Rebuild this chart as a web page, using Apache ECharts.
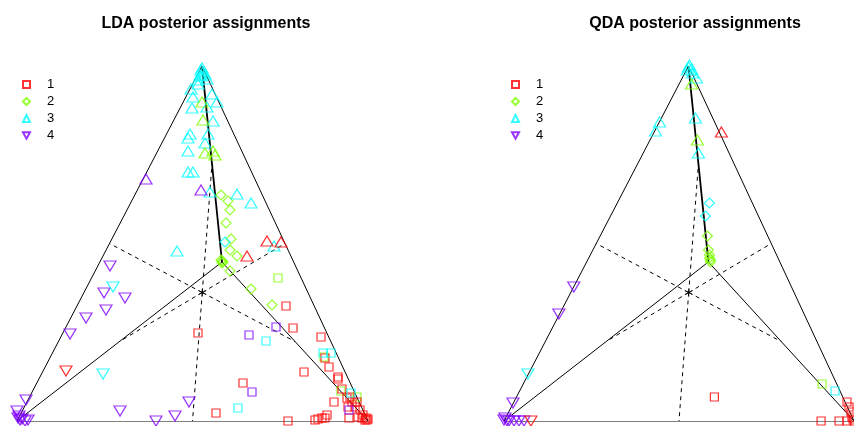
<!DOCTYPE html>
<html>
<head>
<meta charset="utf-8">
<script src="https://cdn.jsdelivr.net/npm/echarts@6/dist/echarts.min.js"></script>
<style>
  html, body { margin: 0; padding: 0; background: #fff; }
  #chart { width: 854px; height: 426px; }
</style>
</head>
<body>
<div id="chart"></div>
<script>
const classNames = ['1', '2', '3', '4'];
const classColors = ['#FF0000', '#80FF00', '#00FFFF', '#8000FF'];
const panelTitles = ['LDA posterior assignments', 'QDA posterior assignments'];

// simplex corner of each class in the projected plane (class 1..4)
const vertexU = [351, 205, 185, 0];
const vertexV = [0, 159, 355, 0];

// [u, v, true class, assigned class]
const ldaPoints = [
  [185,353,3,3],[184,351,3,3],[186,349,3,3],[183,346,3,3],[188,347,3,3],[185,345,3,3],[181,341,3,3],[190,342,3,3],
  [181,337,3,3],[174,332,3,3],[176,324,3,3],[195,327,3,3],[200,319,3,3],[175,313,3,3],[190,314,3,3],[196,300,3,3],
  [173,287,3,3],[171,283,3,3],[191,287,3,3],[188,278,3,3],[171,270,3,3],[171,249,3,3],[176,249,3,3],[193,229,3,3],
  [220,227,3,3],[234,218,3,3],[257,175,3,3],[160,170,3,3],
  [185,319,2,3],[186,301,2,3],[188,268,2,3],[196,270,2,3],[198,266,2,3],
  [184,231,4,3],[129,242,4,3],
  [250,180,1,3],[264,179,1,3],[230,165,1,3],
  [204,226,2,2],[211,220,2,2],[213,211,2,2],[209,198,2,2],[214,182,2,2],[213,171,2,2],[220,165,2,2],
  [205,160,2,2],[204,161,2,2],[206,159,2,2],[205,158,2,2],[213,150,2,2],[234,132,2,2],[255,116,2,2],
  [208,179,3,2],
  [261,143,2,1],[307,64,2,1],[324,30,2,1],[340,24,2,1],
  [269,115,1,1],[276,93,1,1],[181,88,1,1],[304,84,1,1],[308,63,1,1],[312,54,1,1],[287,49,1,1],[321,44,1,1],
  [321,42,1,1],[226,38,1,1],[317,19,1,1],[199,8,1,1],[271,0,1,1],[298,1,1,1],[301,2,1,1],[305,3,1,1],
  [308,3,1,1],[310,6,1,1],[325,32,1,1],[333,24,1,1],[330,23,1,1],[335,19,1,1],[340,19,1,1],[331,14,1,1],
  [338,14,1,1],[343,11,1,1],[346,6,1,1],[351,2,1,1],[341,4,1,1],[332,3,1,1],[348,1,1,1],[345,3,1,1],
  [349,3,1,1],[350,1,1,1],
  [306,68,3,1],[314,68,3,1],[249,80,3,1],[221,13,3,1],[334,28,3,1],
  [259,94,4,1],[232,86,4,1],[235,29,4,1],[332,11,4,1],
  [93,155,4,4],[87,128,4,4],[108,123,4,4],[89,111,4,4],[69,103,4,4],[53,87,4,4],[9,21,4,4],[103,10,4,4],
  [172,19,4,4],[158,5,4,4],[139,0,4,4],[0,10,4,4],[1,3,4,4],[3,1,4,4],[8,0,4,4],[11,1,4,4],[2,5,4,4],[5,2,4,4],
  [96,134,3,4],[86,47,3,4],
  [49,50,1,4]
];

const qdaPoints = [
  [186,356,3,3],[185,354,3,3],[188,352,3,3],[189,348,3,3],[193,343,3,3],[184,351,3,3],
  [188,337,2,3],[194,281,2,3],
  [156,299,3,3],[152,290,3,3],[192,303,3,3],[195,268,3,3],
  [218,289,1,3],
  [206,218,3,2],[202,205,3,2],
  [204,185,2,2],[205,171,2,2],[206,166,2,2],[207,161,2,2],[206,163,2,2],[207,159,2,2],
  [70,134,4,4],[55,107,4,4],[9,18,4,4],[0,1,4,4],[3,0,4,4],[5,0,4,4],[10,0,4,4],[15,0,4,4],[20,0,4,4],[1,3,4,4],
  [24,47,3,4],
  [27,0,1,4],
  [211,24,1,1],[319,37,2,1],[332,30,3,1],
  [318,0,1,1],[336,0,1,1],[344,0,1,1],[344,19,1,1],[346,14,1,1],[348,9,1,1],[349,4,1,1],[351,0,1,1],[350,2,1,1]
];

const shapes = ['rect', 'diamond', 'triangle', 'triangle'];
const rotations = [0, 0, 0, 180];
const sizes = [[8, 8], [10, 10], [12, 10], [12, 10]];
const downTri = 'path://M0,0 L10,0 L5,9 Z';
const star = 'path://M5,0 L5,10 M0.67,2.5 L9.33,7.5 M0.67,7.5 L9.33,2.5';

const chart = echarts.init(document.getElementById('chart'));

const vtx = i => [vertexU[i], vertexV[i]];
const center = [vertexU.reduce((a, b) => a + b, 0) / 4, vertexV.reduce((a, b) => a + b, 0) / 4];

// outer triangle plus the three edges to the inner corner (class 2); class 2 - class 3 edge drawn heavier
const solidSegs = [[3, 0], [0, 2], [2, 3], [1, 0], [1, 3]]
  .map(([a, b]) => ({ coords: [vtx(a), vtx(b)] }));
const heavySegs = [{ coords: [vtx(1), vtx(2)] }];
const dashSegs = [];
for (let a = 0; a < 4; a++) {
  for (let b = a + 1; b < 4; b++) {
    dashSegs.push({ coords: [center, [(vertexU[a] + vertexU[b]) / 2, (vertexV[a] + vertexV[b]) / 2]] });
  }
}

const grids = [
  { left: 17, top: 61, width: 351, height: 360 },
  { left: 504, top: 61, width: 351, height: 360 }
];

const series = [];
[ldaPoints, qdaPoints].forEach((pts, p) => {
  series.push({
    type: 'lines', coordinateSystem: 'cartesian2d', xAxisIndex: p, yAxisIndex: p,
    silent: true, z: 1, data: solidSegs,
    lineStyle: { color: '#000', width: 1, opacity: 1 }
  });
  series.push({
    type: 'lines', coordinateSystem: 'cartesian2d', xAxisIndex: p, yAxisIndex: p,
    silent: true, z: 1, data: heavySegs,
    lineStyle: { color: '#000', width: 1.8, opacity: 1 }
  });
  series.push({
    type: 'lines', coordinateSystem: 'cartesian2d', xAxisIndex: p, yAxisIndex: p,
    silent: true, z: 1, data: dashSegs,
    lineStyle: { color: '#000', width: 1, type: [4, 4], opacity: 1 }
  });
  series.push({
    type: 'scatter', xAxisIndex: p, yAxisIndex: p, z: 2, silent: true,
    symbol: star, symbolSize: 8, data: [center],
    itemStyle: { color: 'rgba(0,0,0,0)', borderColor: '#000', borderWidth: 1 }
  });
  for (let k = 0; k < 4; k++) {
    series.push({
      type: 'scatter', name: 'pts' + p + k, xAxisIndex: p, yAxisIndex: p, z: 3, clip: false,
      symbol: shapes[k], symbolRotate: rotations[k], symbolSize: sizes[k],
      data: pts.filter(d => d[3] === k + 1).map(d => ({
        value: [d[0], d[1]],
        itemStyle: { borderColor: classColors[d[2] - 1] }
      })),
      itemStyle: { color: 'rgba(0,0,0,0)', borderWidth: 1.2 }
    });
  }
});

// legend entries
classNames.forEach((n, k) => {
  series.push({
    type: 'scatter', name: n, xAxisIndex: 0, yAxisIndex: 0, data: [],
    symbol: shapes[k],
    itemStyle: { color: 'rgba(0,0,0,0)', borderColor: classColors[k], borderWidth: 1 }
  });
});

const legendData = classNames.map((n, k) => ({ name: n, icon: k === 3 ? downTri : shapes[k] }));
const legendBase = {
  orient: 'vertical', top: 78, padding: 0, itemWidth: 7, itemHeight: 7, itemGap: 4,
  selectedMode: false, data: legendData,
  textStyle: { fontFamily: 'Liberation Sans, Arial', fontSize: 13, lineHeight: 13, color: '#000', padding: [0, 0, 0, 12] }
};

chart.setOption({
  backgroundColor: '#fff',
  animation: false,
  title: panelTitles.map((t, i) => ({
    text: t, left: i === 0 ? 201 : 690, top: 11, textAlign: 'center',
    textStyle: { fontFamily: 'Liberation Sans, Arial', fontSize: 16, fontWeight: 'bold', color: '#000' }
  })),
  legend: [
    Object.assign({}, legendBase, { left: 22 }),
    Object.assign({}, legendBase, { left: 511 })
  ],
  grid: grids,
  xAxis: grids.map((g, i) => ({ type: 'value', gridIndex: i, min: 0, max: 351, show: false })),
  yAxis: grids.map((g, i) => ({ type: 'value', gridIndex: i, min: 0, max: 360, show: false })),
  series: series
});
</script>
</body>
</html>
